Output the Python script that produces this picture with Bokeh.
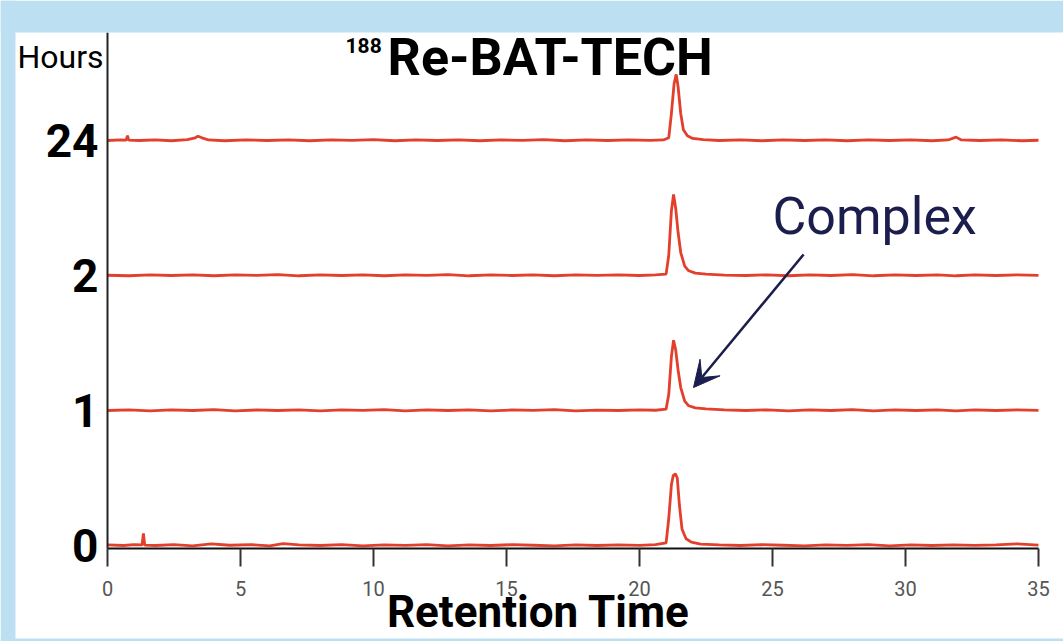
from bokeh.plotting import figure
from bokeh.models import Range1d, Label, Arrow, VeeHead, FixedTicker, BoxAnnotation
from bokeh.embed import file_html
from bokeh.resources import INLINE

# ---- data ----
hour_labels = ["0", "1", "2", "24"]
hour_offsets = [0, 1, 2, 3]
x_ticks = [0, 5, 10, 15, 20, 25, 30, 35]

# (retention time, signal above baseline in units of trace spacing)
trace_0h = [(0, 0.005), (0.6, 0.0), (1.0, 0.006), (1.3, 0.004), (1.35, 0.09), (1.4, 0.003),
            (1.8, 0.0), (2.5, 0.006), (3.2, -0.002), (3.9, 0.012), (4.6, 0.002), (5.4, 0.006),
            (6.1, -0.003), (6.6, 0.014), (7.2, 0.004), (8.0, 0.0), (8.8, 0.006), (9.6, -0.002),
            (10.4, 0.005), (11.2, 0.001), (12.0, 0.007), (12.8, -0.003), (13.6, 0.004), (14.4, 0.0),
            (15.2, 0.006), (16.0, 0.002), (16.8, -0.002), (17.6, 0.005), (18.4, 0.0), (19.2, 0.004),
            (20.0, 0.001), (20.6, 0.006), (21.0, 0.02), (21.1, 0.2), (21.2, 0.45), (21.27, 0.52),
            (21.35, 0.53), (21.42, 0.5), (21.5, 0.3), (21.6, 0.12), (21.75, 0.05), (21.95, 0.025),
            (22.3, 0.01), (23.0, 0.004), (23.8, 0.0), (24.6, 0.006), (25.4, 0.002), (26.2, -0.002),
            (27.0, 0.005), (27.8, 0.001), (28.6, 0.006), (29.4, -0.002), (30.2, 0.004), (31.0, 0.0),
            (31.8, 0.005), (32.6, 0.001), (33.4, 0.004), (34.2, 0.012), (35.0, 0.003)]
trace_1h = [(0, 0.0), (0.8, 0.004), (1.6, -0.002), (2.4, 0.005), (3.2, 0.0), (4.0, 0.006),
            (4.8, -0.002), (5.6, 0.004), (6.4, 0.0), (7.2, 0.005), (8.0, -0.003), (8.8, 0.004),
            (9.6, 0.001), (10.4, 0.006), (11.2, -0.002), (12.0, 0.004), (12.8, 0.0), (13.6, 0.005),
            (14.4, -0.002), (15.2, 0.004), (16.0, 0.001), (16.8, 0.006), (17.6, -0.002), (18.4, 0.003),
            (19.2, 0.0), (20.0, 0.005), (20.6, 0.002), (21.0, 0.01), (21.1, 0.12), (21.2, 0.4),
            (21.28, 0.52), (21.36, 0.45), (21.45, 0.3), (21.55, 0.17), (21.7, 0.07), (21.85, 0.035),
            (22.1, 0.02), (22.5, 0.012), (23.2, 0.004), (24.0, 0.0), (24.8, 0.005), (25.6, -0.002),
            (26.4, 0.004), (27.2, 0.0), (28.0, 0.006), (28.8, -0.002), (29.6, 0.004), (30.4, 0.0),
            (31.2, 0.005), (31.9, -0.002), (32.6, 0.004), (33.4, 0.0), (34.2, 0.005), (35.0, 0.001)]
trace_2h = [(0, 0.002), (0.8, -0.002), (1.6, 0.005), (2.4, 0.0), (3.2, 0.004), (4.0, -0.002),
            (4.8, 0.005), (5.6, 0.001), (6.4, 0.006), (7.2, -0.002), (8.0, 0.004), (8.8, 0.0),
            (9.6, 0.005), (10.4, -0.002), (11.2, 0.004), (12.0, 0.001), (12.8, 0.006), (13.6, -0.002),
            (14.4, 0.004), (15.2, 0.0), (16.0, 0.005), (16.8, -0.002), (17.6, 0.004), (18.4, 0.001),
            (19.2, 0.005), (20.0, 0.0), (20.6, 0.004), (21.0, 0.01), (21.1, 0.15), (21.2, 0.48),
            (21.28, 0.6), (21.36, 0.5), (21.45, 0.32), (21.55, 0.17), (21.7, 0.07), (21.85, 0.035),
            (22.1, 0.018), (22.5, 0.01), (23.2, 0.003), (24.0, 0.0), (24.8, 0.005), (25.6, -0.002),
            (26.4, 0.004), (27.2, 0.0), (28.0, 0.006), (28.8, -0.002), (29.6, 0.004), (30.4, 0.0),
            (31.2, 0.005), (31.9, -0.002), (32.6, 0.004), (33.4, 0.0), (34.2, 0.005), (35.0, 0.001)]
trace_24h = [(0, 0.0), (0.5, 0.004), (0.7, 0.003), (0.75, 0.035), (0.8, 0.003), (1.2, 0.0),
             (1.8, 0.005), (2.4, -0.002), (3.0, 0.006), (3.3, 0.02), (3.4, 0.032), (3.55, 0.02),
             (3.8, 0.004), (4.4, -0.002), (5.2, 0.005), (6.0, 0.0), (6.8, 0.004), (7.6, -0.002),
             (8.4, 0.005), (9.2, 0.001), (10.0, 0.006), (10.8, -0.002), (11.6, 0.004), (12.4, 0.0),
             (13.2, 0.005), (14.0, -0.002), (14.8, 0.004), (15.6, 0.001), (16.4, 0.006), (17.2, -0.002),
             (18.0, 0.004), (18.8, 0.0), (19.6, 0.005), (20.4, 0.001), (20.9, 0.004), (21.1, 0.02),
             (21.2, 0.2), (21.3, 0.42), (21.38, 0.49), (21.45, 0.4), (21.55, 0.2), (21.65, 0.08),
             (21.8, 0.035), (22.0, 0.015), (22.4, 0.006), (23.0, 0.0), (23.8, 0.005), (24.6, -0.002),
             (25.4, 0.004), (26.2, 0.0), (27.0, 0.005), (27.8, -0.002), (28.6, 0.004), (29.4, 0.0),
             (30.2, 0.005), (31.0, -0.002), (31.6, 0.004), (31.9, 0.025), (32.1, 0.004), (32.8, 0.0),
             (33.6, 0.005), (34.4, -0.002), (35.0, 0.002)]
traces = [trace_0h, trace_1h, trace_2h, trace_24h]

# ---- figure ----
FONT = "Roboto"
RED = "#e2402c"
NAVY = "#1b1d4d"
BLUE = "#bcdff1"

p = figure(width=1063, height=641, x_range=Range1d(-4.0226, 35.94), y_range=Range1d(-0.711, 4.037),
           output_backend="svg", toolbar_location=None,
           min_border_left=0, min_border_right=0, min_border_top=0, min_border_bottom=0,
           background_fill_color="white", border_fill_color="white", outline_line_color=None)

# light-blue frame around the white panel
p.add_layout(BoxAnnotation(bottom=3.80, fill_color=BLUE, fill_alpha=1, line_color=None))
p.add_layout(BoxAnnotation(right=-3.4586, fill_color=BLUE, fill_alpha=1, line_color=None))
p.add_layout(BoxAnnotation(top=-0.689, fill_color=BLUE, fill_alpha=1, line_color=None))

for off, tr in zip(hour_offsets, traces):
    xs = [a for a, b in tr]
    ys = [off + b for a, b in tr]
    p.line(xs, ys, line_color=RED, line_width=2.8)

p.xgrid.grid_line_color = None
p.ygrid.grid_line_color = None

p.xaxis.fixed_location = -0.0222
p.xaxis.bounds = (0, 35)
p.xaxis.ticker = FixedTicker(ticks=x_ticks)
p.xaxis.axis_line_width = 2
p.xaxis.axis_line_color = "#111111"
p.xaxis.major_tick_out = 18
p.xaxis.major_tick_in = 0
p.xaxis.major_tick_line_width = 2
p.xaxis.major_tick_line_color = "#333333"
p.xaxis.minor_tick_line_color = None
p.xaxis.major_label_text_font = FONT
p.xaxis.major_label_text_font_size = "20px"
p.xaxis.major_label_text_color = "#555555"
p.xaxis.major_label_standoff = 14

p.yaxis.fixed_location = 0
p.yaxis.bounds = (-0.0222, 3.80)
p.yaxis.ticker = FixedTicker(ticks=hour_offsets)
p.yaxis.major_label_overrides = {o: l for o, l in zip(hour_offsets, hour_labels)}
p.yaxis.axis_line_width = 2
p.yaxis.axis_line_color = "#222222"
p.yaxis.major_tick_out = 0
p.yaxis.major_tick_in = 0
p.yaxis.minor_tick_line_color = None
p.yaxis.major_label_text_font = FONT
p.yaxis.major_label_text_font_style = "bold"
p.yaxis.major_label_text_font_size = "46px"
p.yaxis.major_label_text_color = "black"
p.yaxis.major_label_standoff = 9

# texts
p.add_layout(Label(x=-0.15, y=3.615, text="Hours", text_align="right", text_baseline="alphabetic",
                   text_font=FONT, text_font_size="32px", text_color="black"))
p.add_layout(Label(x=8.95, y=3.70, text="188", text_align="left", text_baseline="alphabetic",
                   text_font=FONT, text_font_style="bold", text_font_size="21px", text_color="black"))
p.add_layout(Label(x=10.53, y=3.615, text="Re-BAT-TECH", text_align="left", text_baseline="alphabetic",
                   text_font=FONT, text_font_style="bold", text_font_size="52px", text_color="black"))
p.add_layout(Label(x=25.0, y=2.44, text="Complex", text_align="left", text_baseline="alphabetic",
                   text_font=FONT, text_font_size="52px", text_color=NAVY))
p.add_layout(Label(x=16.2, y=-0.49, text="Retention Time", text_align="center", text_baseline="alphabetic",
                   text_font=FONT, text_font_style="bold", text_font_size="44px", text_color="black"))

p.add_layout(Arrow(end=VeeHead(size=26, fill_color=NAVY, line_color=NAVY),
                   x_start=26.17, y_start=2.156, x_end=22.03, y_end=1.17,
                   line_color=NAVY, line_width=2.5))

open("out.html", "w").write(file_html(p, INLINE))
